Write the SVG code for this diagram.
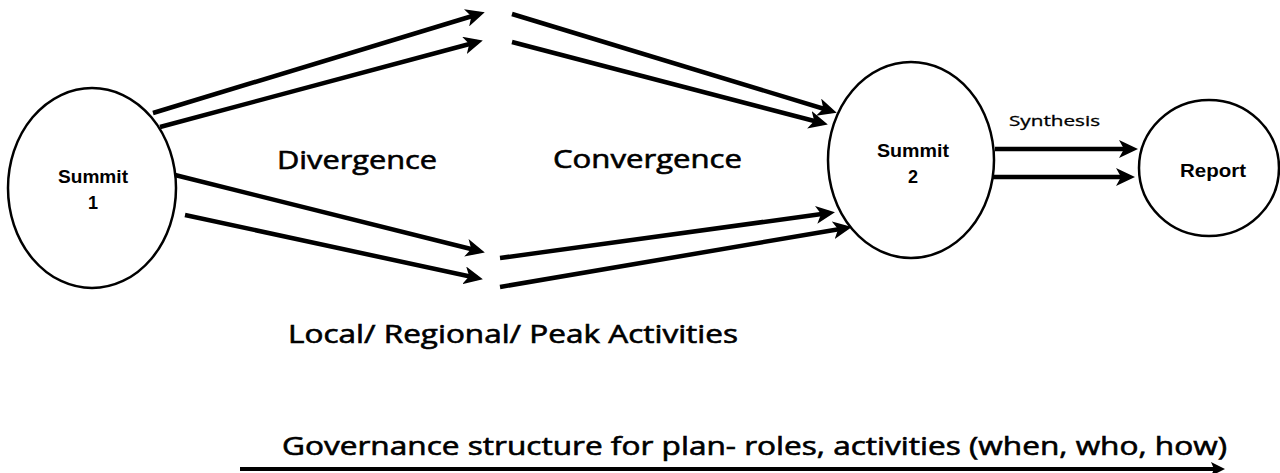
<svg xmlns="http://www.w3.org/2000/svg" width="1280" height="473" viewBox="0 0 1280 473">
<defs>
<style>
.node{fill:#fff;stroke:#000;stroke-width:2.5}
.big{font-family:"Open Sans","Liberation Sans",sans-serif;font-size:25px;font-weight:normal;fill:#000;stroke:#000;stroke-width:0.6}
.nl{font-family:"Liberation Sans",Arial,sans-serif;font-size:18px;font-weight:bold;fill:#000;text-anchor:middle}
.arr{stroke:#000;stroke-width:4.5;fill:none;marker-end:url(#ah)}
.syn{font-family:"Open Sans","Liberation Sans",sans-serif;font-size:14px;font-weight:normal;fill:#000;stroke:#000;stroke-width:0.3}
</style>
<marker id="ah" markerUnits="userSpaceOnUse" markerWidth="22" markerHeight="18" refX="13" refY="9" orient="auto">
<path d="M0,0 L19,9 L0,18 L5,9 Z" fill="#000"/>
</marker>
<marker id="ah2" markerUnits="userSpaceOnUse" markerWidth="16" markerHeight="14" refX="8" refY="7" orient="auto">
<path d="M0,0 L14,7 L0,14 L3,7 Z" fill="#000"/>
</marker>
</defs>
<rect width="1280" height="473" fill="#fff"/>
<g id="connectors">
<line class="arr" x1="153" y1="113" x2="479" y2="14"/>
<line class="arr" x1="160" y1="127" x2="477" y2="42"/>
<line class="arr" x1="175" y1="175" x2="479" y2="251"/>
<line class="arr" x1="185" y1="215" x2="477" y2="278"/>
<line class="arr" x1="512" y1="14" x2="831" y2="111"/>
<line class="arr" x1="512" y1="42" x2="822" y2="123"/>
<line class="arr" x1="500" y1="258" x2="829" y2="213"/>
<line class="arr" x1="500" y1="287" x2="846" y2="228"/>
<line class="arr" x1="995" y1="149" x2="1132" y2="149"/>
<line class="arr" x1="993" y1="177" x2="1129" y2="177"/>
<line x1="240" y1="469" x2="1219" y2="469" stroke="#000" stroke-width="4" marker-end="url(#ah2)"/>
</g>
<g id="summit1">
<ellipse class="node" cx="92" cy="188" rx="84" ry="100"/>
<text class="nl" x="93" y="183" textLength="70" lengthAdjust="spacingAndGlyphs">Summit</text>
<text class="nl" x="93" y="209">1</text>
</g>
<g id="summit2">
<ellipse class="node" cx="911" cy="160" rx="83" ry="98"/>
<text class="nl" x="913" y="157" textLength="72" lengthAdjust="spacingAndGlyphs">Summit</text>
<text class="nl" x="913" y="183">2</text>
</g>
<g id="report">
<ellipse class="node" cx="1209" cy="168" rx="70" ry="68"/>
<text class="nl" x="1213" y="177" textLength="66" lengthAdjust="spacingAndGlyphs">Report</text>
</g>
<g id="labels">
<text class="big" x="277" y="169" textLength="160" lengthAdjust="spacingAndGlyphs">Divergence</text>
<text class="big" x="553" y="168" textLength="189" lengthAdjust="spacingAndGlyphs">Convergence</text>
<text class="syn" x="1009" y="126" textLength="91" lengthAdjust="spacingAndGlyphs">Synthesis</text>
<text class="big" x="288" y="343" textLength="450" lengthAdjust="spacingAndGlyphs">Local/ Regional/ Peak Activities</text>
<text class="big" x="282" y="455" textLength="945" lengthAdjust="spacingAndGlyphs">Governance structure for plan- roles, activities (when, who, how)</text>
</g>
</svg>
